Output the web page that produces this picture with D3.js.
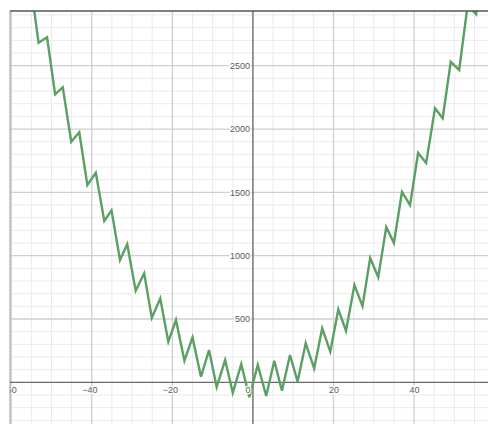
<!DOCTYPE html>
<html>
<head>
<meta charset="utf-8">
<script src="https://cdn.jsdelivr.net/npm/d3@7/dist/d3.min.js"></script>
<style>
  html, body { margin: 0; padding: 0; background: #fff; }
  svg { display: block; }
  .tick-label { font-family: Arial, "Liberation Sans", sans-serif; font-size: 9px; fill: #5a5a5a; }
</style>
</head>
<body>
<svg id="chart" width="488" height="424"></svg>
<script>
// Vertices of the zig-zag parabola (x, y), left to right
const curveX = [-55.3, -53.2, -51.1, -49.1, -47.2, -45.1, -43.1, -41.1, -39.0, -36.9,
                -35.1, -33.0, -31.2, -29.1, -27.0, -25.1, -23.0, -21.0, -19.1, -17.0,
                -15.0, -12.9, -10.9, -9.0, -6.9, -5.0, -2.9, -0.9, 1.2, 3.3,
                5.3, 7.2, 9.2, 11.1, 13.1, 15.2, 17.2, 19.2, 21.2, 23.1,
                25.2, 27.2, 29.1, 31.1, 33.1, 35.0, 37.0, 39.0, 41.0, 43.0,
                45.2, 47.1, 49.1, 51.2, 53.3, 55.4, 57.4];
const curveY = [3170, 2681, 2724, 2274, 2329, 1900, 1974, 1558, 1655, 1274,
                1358, 966, 1090, 723, 861, 510, 662, 321, 492, 171,
                355, 44, 255, -37, 176, -82, 144, -118, 137, -108,
                171, -66, 216, 6, 308, 111, 426, 242, 576, 407,
                768, 602, 981, 831, 1226, 1100, 1503, 1400, 1811, 1732,
                2164, 2085, 2531, 2466, 2979, 2906, 3414];

// Axis labels
const xTickValues = [-60, -40, -20, 20, 40];
const yTickValues = [500, 1000, 1500, 2000, 2500];

// Visible window
const xDomain = [-60.3, 58.35];
const yDomain = [-329, 2932];

const svg = d3.select("#chart");
const plotLeft = 10, plotTop = 11, plotRight = 488, plotBottom = 424;

const x = d3.scaleLinear().domain(xDomain).range([plotLeft, plotRight]);
const y = d3.scaleLinear().domain(yDomain).range([plotBottom, plotTop]);

svg.append("defs").append("clipPath").attr("id", "plot-clip")
  .append("rect").attr("x", plotLeft).attr("y", plotTop)
  .attr("width", plotRight - plotLeft).attr("height", plotBottom - plotTop);

const plot = svg.append("g").attr("clip-path", "url(#plot-clip)");

// Minor grid
const minorX = d3.range(-60, 60, 5).filter(v => v % 20 !== 0);
const minorY = d3.range(-300, 3000, 100).filter(v => v % 500 !== 0);
plot.append("g").selectAll("line").data(minorX).join("line")
  .attr("x1", d => x(d)).attr("x2", d => x(d)).attr("y1", plotTop).attr("y2", plotBottom)
  .attr("stroke", "#ebebeb").attr("stroke-width", 1);
plot.append("g").selectAll("line").data(minorY).join("line")
  .attr("x1", plotLeft).attr("x2", plotRight).attr("y1", d => y(d)).attr("y2", d => y(d))
  .attr("stroke", "#ebebeb").attr("stroke-width", 1);

// Major grid
const majorX = d3.range(-60, 60, 20).filter(v => v !== 0);
const majorY = [-500, 500, 1000, 1500, 2000, 2500];
plot.append("g").selectAll("line").data(majorX).join("line")
  .attr("x1", d => x(d)).attr("x2", d => x(d)).attr("y1", plotTop).attr("y2", plotBottom)
  .attr("stroke", "#cfcfcf").attr("stroke-width", 1.3);
plot.append("g").selectAll("line").data(majorY).join("line")
  .attr("x1", plotLeft).attr("x2", plotRight).attr("y1", d => y(d)).attr("y2", d => y(d))
  .attr("stroke", "#cfcfcf").attr("stroke-width", 1.3);

// Axes lines
plot.append("line")
  .attr("x1", x(0)).attr("x2", x(0)).attr("y1", plotTop).attr("y2", plotBottom)
  .attr("stroke", "#6a6a6a").attr("stroke-width", 1.4);
plot.append("line")
  .attr("x1", plotLeft).attr("x2", plotRight).attr("y1", y(0)).attr("y2", y(0))
  .attr("stroke", "#6a6a6a").attr("stroke-width", 1.4);

// Curve
const pts = curveX.map((v, i) => [v, curveY[i]]);
plot.append("path")
  .datum(pts)
  .attr("fill", "none")
  .attr("stroke", "#5a9f63")
  .attr("stroke-width", 2.4)
  .attr("stroke-linejoin", "miter")
  .attr("d", d3.line().x(d => x(d[0])).y(d => y(d[1])));

// Tick labels along the axes
const labels = plot.append("g");
const xAxis = d3.axisBottom(x).tickValues(xTickValues).tickSize(0).tickPadding(4)
  .tickFormat(d => d < 0 ? "\u2212" + Math.abs(d) : String(d));
const gx = labels.append("g").attr("transform", `translate(0,${y(0)})`).call(xAxis);
gx.select(".domain").remove();
gx.selectAll("text").attr("class", "tick-label").attr("font-size", null).attr("font-family", null)
  .attr("fill", null)
  .attr("dx", d => d < 0 ? -2.5 : 0)
  .attr("stroke", "#fff").attr("stroke-width", 2.5).attr("paint-order", "stroke");

// Origin label
labels.append("text").attr("class", "tick-label")
  .attr("x", x(0) - 2.5).attr("y", y(0) + 11).attr("text-anchor", "end")
  .attr("stroke", "#fff").attr("stroke-width", 2.5).attr("paint-order", "stroke")
  .text("0");

const yAxis = d3.axisLeft(y).tickValues(yTickValues).tickSize(0).tickPadding(3)
  .tickFormat(d3.format("d"));
const gy = labels.append("g").attr("transform", `translate(${x(0)},0)`).call(yAxis);
gy.select(".domain").remove();
gy.selectAll("text").attr("class", "tick-label").attr("font-size", null).attr("font-family", null)
  .attr("fill", null)
  .attr("stroke", "#fff").attr("stroke-width", 2.5).attr("paint-order", "stroke");

// Frame
svg.append("line").attr("x1", plotLeft).attr("x2", plotRight).attr("y1", plotTop).attr("y2", plotTop)
  .attr("stroke", "#555").attr("stroke-width", 1.5);
svg.append("line").attr("x1", plotLeft).attr("x2", plotLeft).attr("y1", plotTop).attr("y2", plotBottom)
  .attr("stroke", "#9a9a9a").attr("stroke-width", 1);
</script>
</body>
</html>
